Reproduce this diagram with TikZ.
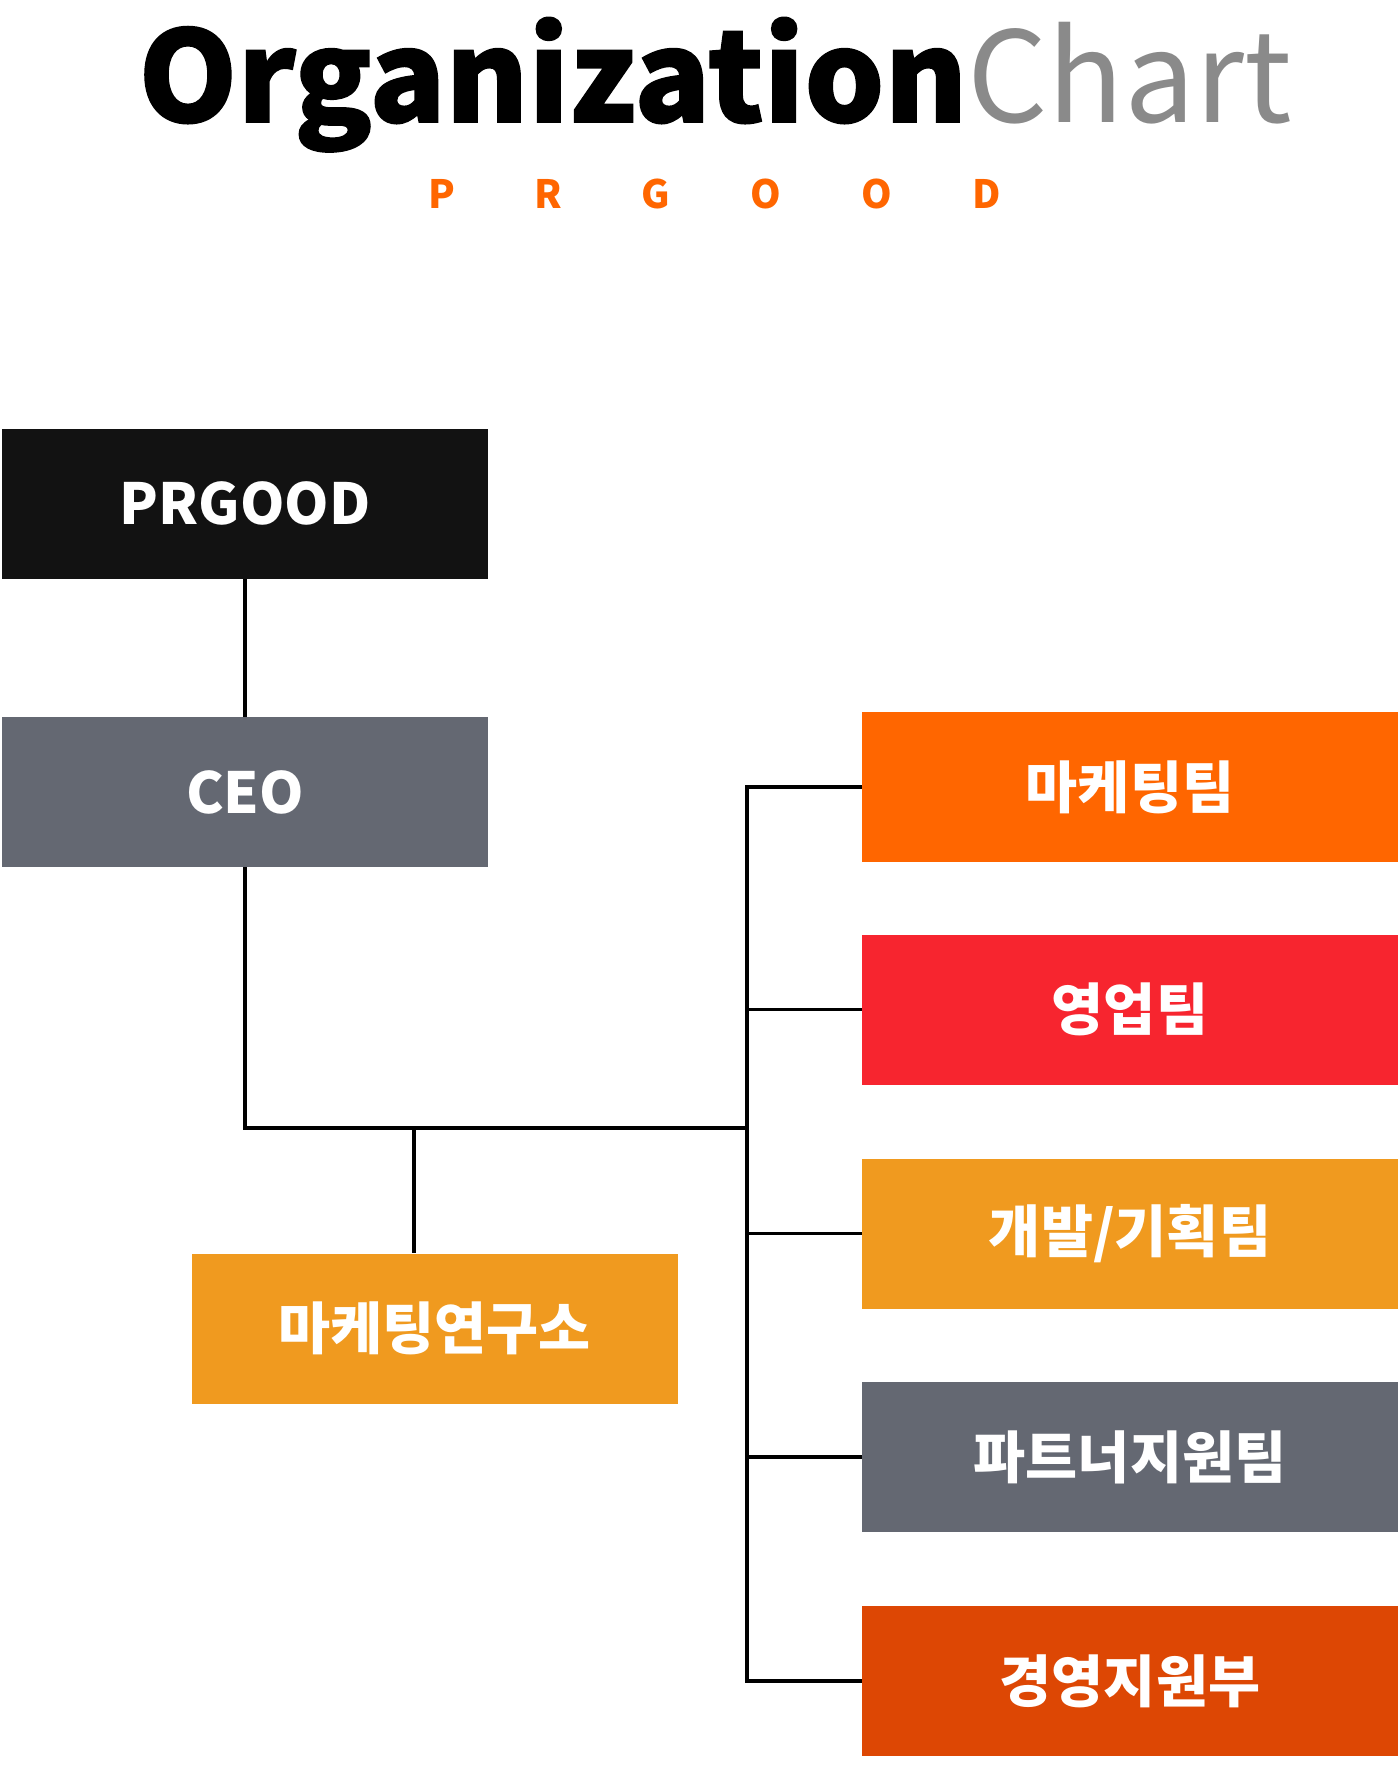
\documentclass[tikz,border=0pt]{standalone}
\usepackage{fontspec}
\setmainfont{Noto Sans CJK KR}
\newfontfamily\kr{Noto Sans CJK KR}
\newfontfamily\krheavy[BoldFeatures={FakeBold=1.2}]{Noto Sans CJK KR}
\definecolor{cblack}{HTML}{121212}
\definecolor{cgray}{HTML}{646872}
\definecolor{corange}{HTML}{FF6600}
\definecolor{cred}{HTML}{F7252F}
\definecolor{camber}{HTML}{F09A1F}
\definecolor{cdeep}{HTML}{DD4704}
\definecolor{titlegray}{HTML}{8A8A8A}
\begin{document}
\begin{tikzpicture}[x=0.5pt,y=-0.5pt,
  box/.style={rectangle, inner sep=0pt, minimum height=75pt, text=white,
    font=\kr\bfseries\fontsize{28.3}{29}\selectfont},
  leftbox/.style={box, minimum width=243pt},
  rightbox/.style={box, minimum width=268pt},
  conn/.style={line width=1.7pt, draw=black},
  sub/.style={anchor=base, text=corange, font=\kr\bfseries\fontsize{19.5}{20}\selectfont, inner sep=0pt}]
\useasboundingbox[fill=white] (0,0) rectangle (1400,1768);
% title
\node (title) [anchor=base, inner sep=0pt, font=\fontsize{63}{63}\selectfont] at (715,122)
  {{\krheavy\bfseries Organization}{\kr\color{titlegray}Chart}};
\node[sub] (s1) at (442,208) {P};
\node[sub] (s2) at (548,208) {R};
\node[sub] (s3) at (656,208) {G};
\node[sub] (s4) at (766,208) {O};
\node[sub] (s5) at (877,208) {O};
\node[sub] (s6) at (987,208) {D};
% boxes
\node[leftbox, fill=cblack] (prgood) at (245,503.5) {PRGOOD};
\node[leftbox, fill=cgray] (ceo) at (245,792) {CEO};
\node[leftbox, fill=camber] (lab) at (434.5,1328.5) {마케팅연구소};
\node[rightbox, fill=corange] (mkt) at (1130,787) {마케팅팀};
\node[rightbox, fill=cred] (sales) at (1130,1009.5) {영업팀};
\node[rightbox, fill=camber] (dev) at (1130,1233.5) {개발/기획팀};
\node[rightbox, fill=cgray] (partner) at (1130,1457) {파트너지원팀};
\node[rightbox, fill=cdeep] (mgmt) at (1130,1681) {경영지원부};
% connectors
\coordinate (J) at (747,1128);
\coordinate (B) at (414,1128);
\draw[conn] (prgood.south) -- (ceo.north);
\draw[conn] (ceo.south) |- (J);
\draw[conn] (B) -- (B |- lab.north);
\draw[conn] (mkt.west) -| (J);
\draw[conn] (mgmt.west) -| (J);
\draw[conn] (sales.west) -- (sales.west -| J);
\draw[conn] (dev.west) -- (dev.west -| J);
\draw[conn] (partner.west) -- (partner.west -| J);
\end{tikzpicture}
\end{document}
